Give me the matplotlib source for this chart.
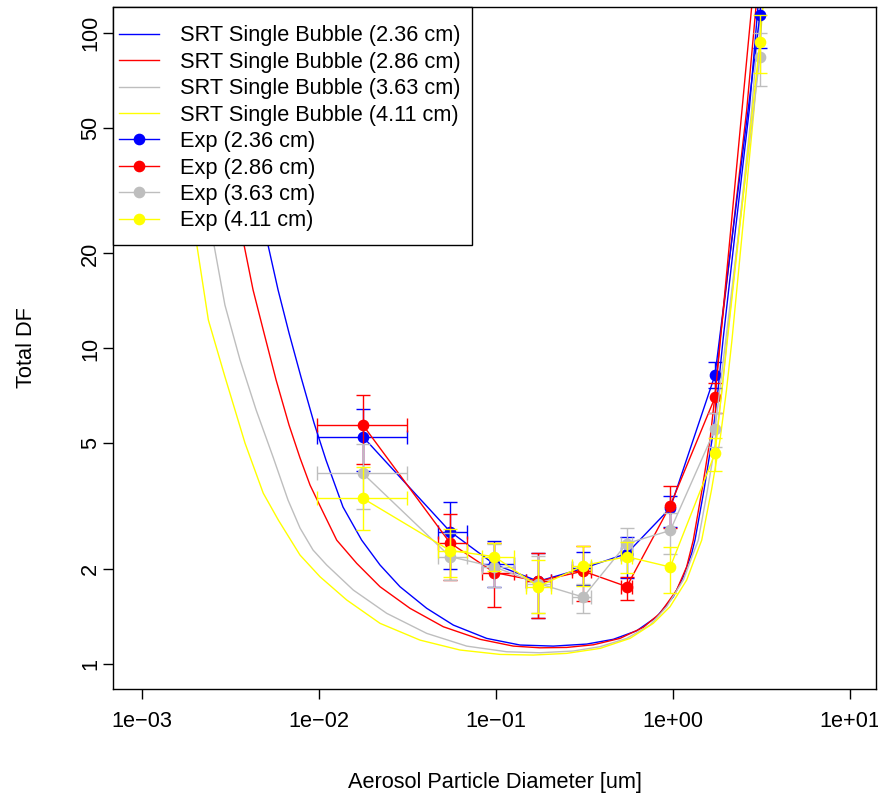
import numpy as np
import matplotlib
matplotlib.use("Agg")
import matplotlib.pyplot as plt
from matplotlib.lines import Line2D
from matplotlib.patches import Rectangle
from matplotlib.ticker import NullLocator

plt.rcParams["font.family"] = ["Liberation Sans", "DejaVu Sans"]

# SRT single bubble model curves
blue_srt_x = [0.0032, 0.00515, 0.00587, 0.00677, 0.00791, 0.00937, 0.01095, 0.01366, 0.01742, 0.02212,
              0.02869, 0.0406, 0.0574, 0.0886, 0.1367, 0.2108, 0.3253, 0.460, 0.6236, 0.8089, 1.004,
              1.144, 1.275, 1.331, 1.497, 1.661, 1.796, 1.917, 2.270, 2.698, 3.021, 3.18]
blue_srt_y = [150, 21.28, 15.33, 11.19, 8.12, 5.81, 4.43, 3.146, 2.47, 2.06, 1.758, 1.502, 1.329, 1.206,
              1.149, 1.140, 1.157, 1.198, 1.275, 1.412, 1.634, 1.891, 2.243, 2.47, 3.561, 5.13, 7.387,
              10.64, 24.63, 57.0, 120.9, 158]
red_srt_x = [0.0024, 0.00377, 0.00424, 0.00489, 0.00572, 0.00677, 0.00781, 0.00890, 0.01040, 0.01259,
             0.01633, 0.02212, 0.03266, 0.05038, 0.08122, 0.1253, 0.1772, 0.2507, 0.3545, 0.5019, 0.6795,
             0.8445, 1.049, 1.195, 1.302, 1.458, 1.618, 1.739, 1.843, 2.197, 2.609, 2.944, 3.10]
red_srt_y = [150, 21.28, 15.33, 11.19, 7.95, 5.72, 4.50, 3.69, 3.077, 2.47, 2.085, 1.758, 1.502, 1.313,
             1.198, 1.140, 1.126, 1.129, 1.151, 1.206, 1.307, 1.448, 1.716, 2.034, 2.47, 3.561, 5.13,
             7.387, 10.64, 24.63, 57.0, 120.9, 158]
gray_srt_x = [0.0017, 0.00255, 0.00294, 0.00358, 0.00441, 0.00550, 0.00668, 0.00781, 0.00925, 0.01105,
              0.01562, 0.02413, 0.0406, 0.06831, 0.1149, 0.1772, 0.2734, 0.387, 0.5476, 0.7415, 0.9214,
              1.144, 1.302, 1.39, 1.566, 1.749, 1.891, 2.018, 2.375, 2.784, 3.10, 3.267]
gray_srt_y = [150, 21.28, 13.73, 9.19, 6.39, 4.53, 3.31, 2.698, 2.298, 2.06, 1.716, 1.448, 1.251, 1.140,
              1.094, 1.086, 1.10, 1.135, 1.206, 1.329, 1.519, 1.846, 2.243, 2.47, 3.561, 5.13, 7.387,
              10.64, 24.63, 57.0, 120.9, 158]
yellow_srt_x = [0.0013, 0.00204, 0.00237, 0.00294, 0.00382, 0.00484, 0.00589, 0.00781, 0.01013, 0.01434,
                0.02212, 0.03721, 0.06258, 0.1054, 0.1624, 0.2507, 0.387, 0.5715, 0.7739, 0.9618, 1.195,
                1.361, 1.453, 1.650, 1.843, 2.006, 2.154, 2.486, 2.869, 3.225, 3.397]
yellow_srt_y = [150, 21.28, 12.31, 8.14, 5.01, 3.48, 2.86, 2.215, 1.891, 1.596, 1.346, 1.191, 1.108, 1.073,
                1.068, 1.081, 1.121, 1.206, 1.346, 1.519, 1.846, 2.243, 2.47, 3.561, 5.13, 7.387, 10.64,
                24.63, 57.0, 120.9, 158]

# experiments
exp_x = [0.0177, 0.0550, 0.0980, 0.1734, 0.311, 0.548, 0.965, 1.727, 3.10]
exp_xlo = [0.0098, 0.0472, 0.083, 0.148, 0.270, 0.510, 0.965, 1.727, 3.10]
exp_xhi = [0.0315, 0.0683, 0.127, 0.205, 0.344, 0.590, 0.965, 1.727, 3.10]

blue_y = [5.25, 2.63, 2.07, 1.83, 2.01, 2.24, 3.12, 8.24, 114]
blue_lo = [4.09, 2.00, 1.75, 1.40, 1.78, 1.88, 2.72, 7.50, 89.4]
blue_hi = [6.43, 3.27, 2.45, 2.25, 2.27, 2.52, 3.41, 9.08, 140]
red_y = [5.72, 2.42, 1.95, 1.83, 1.97, 1.76, 3.18, 7.00, 230]
red_lo = [4.30, 1.85, 1.52, 1.40, 1.59, 1.60, 2.70, 6.23, 190]
red_hi = [7.12, 2.99, 2.42, 2.25, 2.37, 1.89, 3.67, 7.80, 270]
gray_y = [4.02, 2.19, 2.03, 1.80, 1.63, 2.41, 2.65, 5.54, 84.1]
gray_lo = [3.10, 1.85, 1.75, 1.45, 1.45, 2.16, 2.24, 4.86, 67.9]
gray_hi = [4.97, 2.60, 2.40, 2.20, 1.80, 2.69, 3.00, 6.23, 99.7]
yellow_y = [3.35, 2.29, 2.19, 1.76, 2.05, 2.19, 2.03, 4.65, 93.8]
yellow_lo = [2.66, 1.89, 1.97, 1.45, 1.77, 1.94, 1.68, 4.09, 74.5]
yellow_hi = [4.20, 2.67, 2.42, 2.14, 2.37, 2.44, 2.35, 5.19, 113.6]

sizes = ["2.36", "2.86", "3.63", "4.11"]
colors = ["#0000FF", "#FF0000", "#BEBEBE", "#FFFF00"]

x_ticks = [1e-3, 1e-2, 1e-1, 1, 10]
x_labels = ["1e\u221203", "1e\u221202", "1e\u221201", "1e+00", "1e+01"]
y_ticks = [1, 2, 5, 10, 20, 50, 100]
y_labels = ["1", "2", "5", "10", "20", "50", "100"]

FS = 15.7

fig = plt.figure(figsize=(8.79, 8.01), dpi=100)
ax = fig.add_axes([113/879, 1-689/801, (876-113)/879, (689-7)/801])
ax.set_xscale("log"); ax.set_yscale("log")

srt = [(blue_srt_x, blue_srt_y), (red_srt_x, red_srt_y), (gray_srt_x, gray_srt_y), (yellow_srt_x, yellow_srt_y)]
for (sx, sy), c in zip(srt, colors):
    ax.plot(sx, sy, color=c, lw=1.0)

xe = np.array(exp_x); xl = np.array(exp_xlo); xh = np.array(exp_xhi)
hasx = xh > xl
exps = [(blue_y, blue_lo, blue_hi), (red_y, red_lo, red_hi), (gray_y, gray_lo, gray_hi), (yellow_y, yellow_lo, yellow_hi)]
for (y, lo, hi), c in zip(exps, colors):
    y = np.array(y); lo = np.array(lo); hi = np.array(hi)
    ax.plot(xe, y, "-o", color=c, lw=1.0, ms=7.4)
    ax.errorbar(xe, y, yerr=[y-lo, hi-y], fmt="none", ecolor=c, elinewidth=1.0, capsize=4.7, capthick=1.0)
    ax.errorbar(xe[hasx], y[hasx], xerr=[xe[hasx]-xl[hasx], xh[hasx]-xe[hasx]], fmt="none",
                ecolor=c, elinewidth=1.0, capsize=4.7, capthick=1.0)

ax.set_xlim(10**-3.164, 10**1.147)
ax.set_ylim(10**-0.079, 10**2.082)
ax.set_xticks(x_ticks); ax.set_xticklabels(x_labels, fontsize=FS)
ax.set_yticks(y_ticks); ax.set_yticklabels(y_labels, fontsize=FS, rotation=90, va="center")
ax.xaxis.set_minor_locator(NullLocator()); ax.yaxis.set_minor_locator(NullLocator())
ax.tick_params(direction="out", length=7.2, width=1.0)
ax.tick_params(axis="x", pad=8.5)
ax.tick_params(axis="y", pad=1.5)
for s in ax.spines.values():
    s.set_linewidth(1.0)

ax.set_xlabel("Aerosol Particle Diameter [um]", fontsize=FS, labelpad=29)
ax.set_ylabel("Total DF", fontsize=FS, labelpad=31)

# legend box (R style: square, white, touching the top-left corner)
box = Rectangle((0, 1 - 238/682), 359/763, 238/682, transform=ax.transAxes,
                facecolor="white", edgecolor="black", lw=1.0, zorder=9, clip_on=False)
ax.add_patch(box)
handles = [Line2D([], [], color=c, lw=1.0) for c in colors] + \
          [Line2D([], [], color=c, lw=1.0, marker="o", ms=7.4) for c in colors]
labels = [f"SRT Single Bubble ({s} cm)" for s in sizes] + [f"Exp ({s} cm)" for s in sizes]
leg = ax.legend(handles, labels, loc="upper left", bbox_to_anchor=(0, 1 - 12/682), borderaxespad=0,
                fontsize=FS, frameon=False, handlelength=1.84, handletextpad=0.92,
                labelspacing=0.25, borderpad=0.29)
leg.set_zorder(10)

fig.savefig("out.png", dpi=100)
